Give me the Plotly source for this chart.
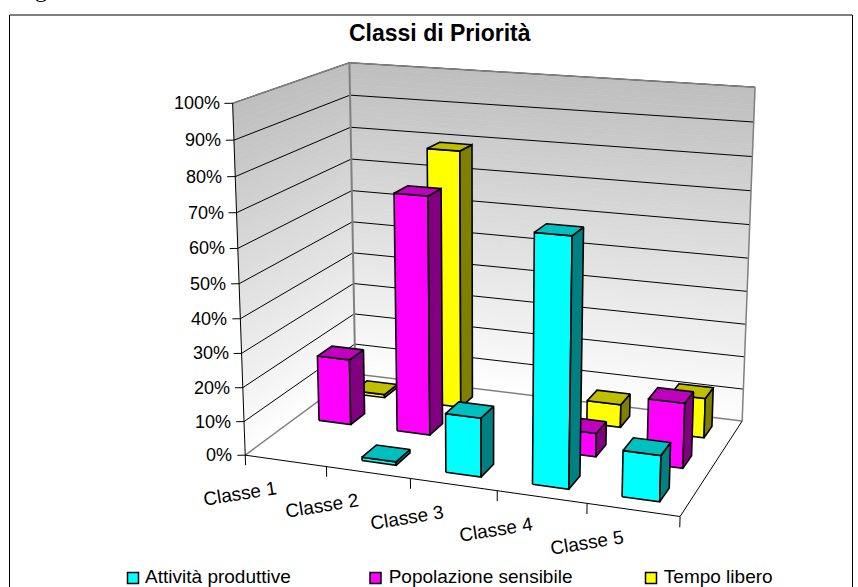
import numpy as np
import plotly.graph_objects as go

categories = ["Classe 1", "Classe 2", "Classe 3", "Classe 4", "Classe 5"]
series_names = ["Attività produttive", "Popolazione sensibile", "Tempo libero"]
attivita = [0, 1, 17, 70, 13]
popolazione = [20, 71, 0, 7, 19]
tempo = [1, 79, 0, 7, 12]
pct_ticks = list(range(0, 101, 10))

W, H = 858, 587
FONT = "Liberation Sans"

# Oblique view of the chart box: where its reference corners fall on the page
# (category position, series depth, percent) -> page position
BOX_ANCHORS = [
    ((0, 0, 0), (247, 456)), ((1, 0, 0), (326, 467)), ((2, 0, 0), (410, 480)),
    ((3, 0, 0), (498, 491)), ((4, 0, 0), (587, 503)), ((5, 0, 0), (679, 515)),
    ((0, 3, 0), (354, 372)), ((5, 3, 0), (743, 422)),
    ((0, 0, 100), (232, 102)), ((0, 3, 100), (350, 64)), ((5, 3, 100), (755, 87)),
]


def fit_view(anchors):
    rows, rhs = [], []
    for (a, b, c), (u, v) in anchors:
        rows.append([a, b, c, 1, 0, 0, 0, 0, -u * a, -u * b, -u * c])
        rhs.append(u)
        rows.append([0, 0, 0, 0, a, b, c, 1, -v * a, -v * b, -v * c])
        rhs.append(v)
    s = np.linalg.lstsq(np.array(rows, float), np.array(rhs, float), rcond=None)[0]
    return np.append(s, 1.0).reshape(3, 4)


VIEW = fit_view(BOX_ANCHORS)


def view(x, y, z):
    h = VIEW @ np.array([x, y, z, 1.0])
    return h[0] / h[2], h[1] / h[2]


fig = go.Figure()


def poly(points, fill, line="black", width=1.6):
    xy = [view(*p) for p in points]
    xy.append(xy[0])
    fig.add_trace(go.Scatter(x=[q[0] for q in xy], y=[q[1] for q in xy], mode="lines",
                             fill="toself", fillcolor=fill,
                             line=dict(color=line, width=width),
                             hoverinfo="skip", showlegend=False))


def seg(a, b, color="black", width=1.0):
    p, q = view(*a), view(*b)
    fig.add_trace(go.Scatter(x=[p[0], q[0]], y=[p[1], q[1]], mode="lines",
                             line=dict(color=color, width=width),
                             hoverinfo="skip", showlegend=False))


# Walls: shaded from white at the floor to grey at the top
N_BANDS = 60
for k in range(N_BANDS):
    z0, z1 = 100 * k / N_BANDS, 100 * (k + 1) / N_BANDS
    t = (k + 0.5) / N_BANDS
    g = int(round(255 - (255 - 190) * t))
    col = f"rgb({g},{g},{g})"
    poly([(0, 0, z0), (0, 3, z0), (0, 3, z1), (0, 0, z1)], col, col, 0.6)
    poly([(0, 3, z0), (5, 3, z0), (5, 3, z1), (0, 3, z1)], col, col, 0.6)

# Gridlines
for v in pct_ticks[1:]:
    seg((0, 0, v), (0, 3, v))
    seg((0, 3, v), (5, 3, v))

# Wall and floor outline
GREY = "#808080"
seg((0, 0, 0), (0, 3, 0), GREY, 1.5)
seg((0, 3, 0), (5, 3, 0), GREY, 1.5)
seg((0, 3, 0), (0, 3, 100), GREY, 2)
seg((5, 3, 0), (5, 3, 100), GREY, 1.5)
seg((0, 0, 100), (0, 3, 100), GREY, 1.5)
seg((0, 3, 100), (5, 3, 100), GREY, 1.5)
seg((5, 0, 0), (5, 3, 0), "black", 1)
seg((0, 0, 0), (5, 0, 0), "black", 1)
seg((0, 0, 0), (0, 0, 100), "black", 1)

# Axis ticks
for v in pct_ticks:
    seg((-0.08, -0.034, v), (0, 0, v), "black", 1)
for i in range(len(categories) + 1):
    seg((i, 0, 0), (i, 0, -3), "black", 1)

# Bars, back to front
series = [
    (attivita, "#00FFFF", "#00BFBF", "#008080"),
    (popolazione, "#FF00FF", "#BF00BF", "#800080"),
    (tempo, "#FFFF00", "#BFBF00", "#808000"),
]
BAR_W, BAR_D = 0.41, 0.40
X_OFF, Y_OFF = 0.295, 0.30
for s in reversed(range(len(series))):
    values, front, top, side = series[s]
    for i, v in enumerate(values):
        if v <= 0:
            continue
        x0, x1 = i + X_OFF, i + X_OFF + BAR_W
        y0, y1 = s + Y_OFF, s + Y_OFF + BAR_D
        poly([(x0, y0, 0), (x1, y0, 0), (x1, y0, v), (x0, y0, v)], front)
        poly([(x1, y0, 0), (x1, y1, 0), (x1, y1, v), (x1, y0, v)], side)
        poly([(x0, y0, v), (x1, y0, v), (x1, y1, v), (x0, y1, v)], top)

annotations = []
for v in pct_ticks:
    px, py = view(0, 0, v)
    annotations.append(dict(x=px, y=py, text=f"{v}%", showarrow=False, xanchor="right",
                            xshift=-11, font=dict(family=FONT, size=18, color="black")))
for i, c in enumerate(categories):
    px, py = view(i + 0.5, 0, 0)
    annotations.append(dict(x=px, y=py, text=c, showarrow=False, textangle=-9,
                            xshift=-46, yshift=-33, font=dict(family=FONT, size=19, color="black")))
annotations.append(dict(x=440, y=33, text="<b>Classi di Priorità</b>", showarrow=False,
                        font=dict(family=FONT, size=23, color="black")))
annotations.append(dict(x=41, y=4, text="g", showarrow=False, yanchor="bottom",
                        font=dict(family="Liberation Serif", size=24, color="black")))

# Legend row
LEGEND_X = [133, 375.5, 651]
LEGEND_Y = 578
for name, (vals, front, _, _), lx in zip(series_names, series, LEGEND_X):
    fig.add_trace(go.Scatter(x=[lx], y=[LEGEND_Y], mode="markers+text", name=name,
                             text=[" " + name], textposition="middle right",
                             textfont=dict(family=FONT, size=19, color="black"),
                             marker=dict(symbol="square", size=11, color=front,
                                         line=dict(color="black", width=1.5)),
                             hoverinfo="skip", showlegend=False, cliponaxis=False))

fig.update_layout(
    width=W, height=H, margin=dict(l=0, r=0, t=0, b=0), showlegend=False,
    paper_bgcolor="white", plot_bgcolor="white",
    xaxis=dict(range=[0, W], visible=False, fixedrange=True),
    yaxis=dict(range=[H, 0], visible=False, fixedrange=True),
    annotations=annotations,
    shapes=[dict(type="rect", xref="x", yref="y", x0=9.5, x1=852.5, y0=15, y1=620,
                 line=dict(color="black", width=1), layer="below")],
)
fig.write_html("out.html", config=dict(displayModeBar=False),
               post_script="document.body.style.margin='0';document.body.style.overflow='hidden';")
